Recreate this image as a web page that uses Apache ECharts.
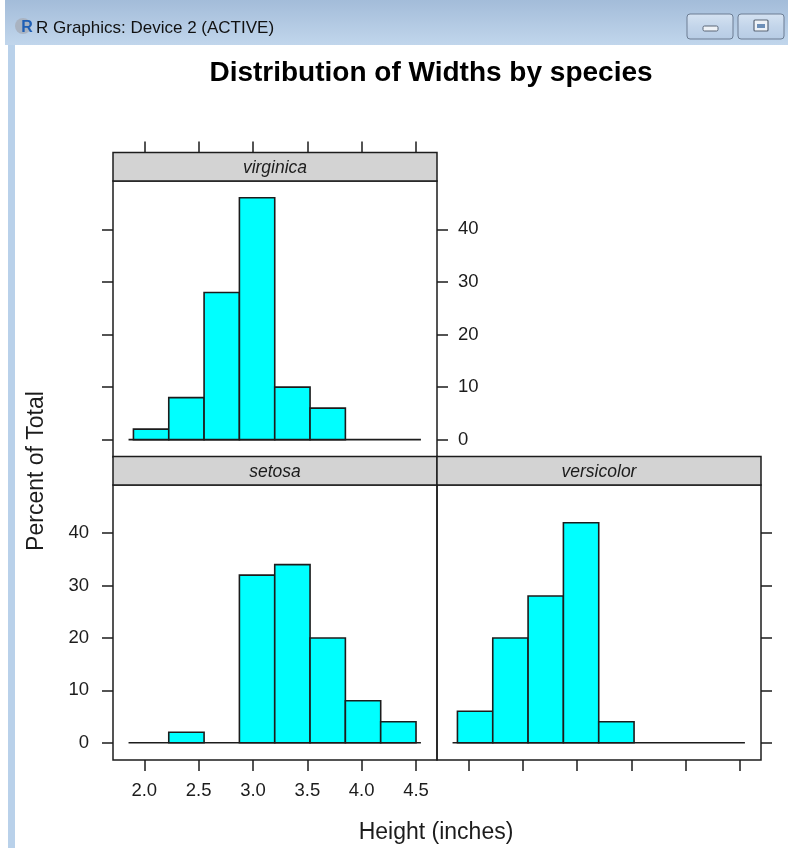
<!DOCTYPE html>
<html>
<head>
<meta charset="utf-8">
<title>Distribution of Widths by species</title>
<script src="https://cdn.jsdelivr.net/npm/echarts@6/dist/echarts.min.js"></script>
<style>
  html, body { margin: 0; padding: 0; background: #ffffff; }
  #chart { width: 788px; height: 848px; }
</style>
</head>
<body>
<div id="chart"></div>
<script>
// Histogram breaks shared by all three panels
const breaks = [1.9, 2.225, 2.55, 2.875, 3.2, 3.525, 3.85, 4.175, 4.5];

// Percent of total per bin, one array per species
const virginica  = [2, 8, 28, 46, 10, 6, 0, 0];
const setosa     = [0, 2, 0, 32, 34, 20, 8, 4];
const versicolor = [6, 20, 28, 42, 4, 0, 0, 0];

// Tick values
const xTicks = [2.0, 2.5, 3.0, 3.5, 4.0, 4.5];
const yTicks = [0, 10, 20, 30, 40];

// Text
const chartTitle = 'Distribution of Widths by species';
const xTitle = 'Height (inches)';
const yTitle = 'Percent of Total';
const windowTitle = 'R Graphics: Device 2 (ACTIVE)';

// Scale limits (padded around the data like lattice does)
const X_MIN = 1.712, X_MAX = 4.693;
const Y_MIN = -3.3, Y_MAX = 49.2;
const BASE_PAD = 0.045;

const FONT = "'Liberation Sans', Arial, sans-serif";
const INK = '#1c1c1c';

function binData(values) {
  const out = [];
  values.forEach((v, i) => {
    if (v > 0) out.push([breaks[i], breaks[i + 1], v]);
  });
  return out;
}

function renderBar(params, api) {
  const lo = api.value(0), hi = api.value(1), v = api.value(2);
  const p0 = api.coord([lo, 0]);
  const p1 = api.coord([hi, v]);
  return {
    type: 'rect',
    shape: { x: p0[0], y: p1[1], width: p1[0] - p0[0], height: p0[1] - p1[1] },
    style: { fill: '#00ffff', stroke: INK, lineWidth: 1.6 }
  };
}

// Panel geometry
const PW = 324;
const panels = [
  { name: 'virginica',  left: 113, top: 181, height: 276 },
  { name: 'setosa',     left: 113, top: 485, height: 275 },
  { name: 'versicolor', left: 437, top: 485, height: 275 }
];
const STRIP_H = 28.5;

const tickStyle = { show: true, length: 11, lineStyle: { color: INK, width: 1.5 } };

function xAxisDef(gridIndex, opts) {
  return Object.assign({
    type: 'value', gridIndex, min: X_MIN, max: X_MAX,
    axisLine: { show: false, onZero: false },
    splitLine: { show: false },
    axisTick: Object.assign({ customValues: xTicks }, tickStyle),
    axisLabel: { show: false }
  }, opts);
}
function yAxisDef(gridIndex, opts) {
  return Object.assign({
    type: 'value', gridIndex, min: Y_MIN, max: Y_MAX,
    axisLine: { show: false, onZero: false },
    splitLine: { show: false },
    axisTick: Object.assign({ customValues: yTicks }, tickStyle),
    axisLabel: { show: false }
  }, opts);
}

const labelStyle = { fontFamily: FONT, fontSize: 18.5, color: INK };

const baseline = [[breaks[0] - BASE_PAD, 0], [breaks[breaks.length - 1] + BASE_PAD, 0]];

function baselineSeries(xi, yi) {
  return {
    type: 'line', xAxisIndex: xi, yAxisIndex: yi, data: baseline,
    symbol: 'none', silent: true, z: 1,
    lineStyle: { color: INK, width: 1.6 }
  };
}
function barSeries(name, values, xi, yi) {
  return {
    type: 'custom', name, xAxisIndex: xi, yAxisIndex: yi,
    data: binData(values), renderItem: renderBar, z: 2,
    encode: { x: [0, 1], y: 2 }
  };
}

// Window chrome and strips
const buttonFill = () => new echarts.graphic.LinearGradient(0, 0, 0, 1, [
  { offset: 0, color: '#d6e3f2' }, { offset: 0.5, color: '#c3d5ea' }, { offset: 1, color: '#b6cbe4' }]);

const graphics = [
  { type: 'rect', z: -10, shape: { x: 5, y: 0, width: 783, height: 45 },
    style: { fill: new echarts.graphic.LinearGradient(0, 0, 0, 1, [
      { offset: 0, color: '#a3bcd9' }, { offset: 1, color: '#c1d6ec' }]) } },
  { type: 'rect', z: -10, shape: { x: 8, y: 45, width: 7, height: 803 },
    style: { fill: '#b9d1ea' } },
  { type: 'circle', shape: { cx: 23, cy: 26, r: 8 }, style: { fill: '#a9b3c1' } },
  { type: 'text', style: { x: 27, y: 28, text: 'R', fontFamily: FONT, fontWeight: 'bold',
      fontSize: 16, fill: '#1f5fb5', align: 'center', verticalAlign: 'middle' } },
  { type: 'text', style: { x: 36, y: 28, text: windowTitle, fontFamily: FONT,
      fontSize: 17, fill: '#111111', verticalAlign: 'middle' } },
  { type: 'rect', shape: { x: 687, y: 14, width: 46, height: 25, r: 3 },
    style: { fill: buttonFill(), stroke: '#6c7d93', lineWidth: 1 } },
  { type: 'rect', shape: { x: 703, y: 26, width: 15, height: 5, r: 1.5 },
    style: { fill: '#eef2f7', stroke: '#5a6677', lineWidth: 1 } },
  { type: 'rect', shape: { x: 738, y: 14, width: 46, height: 25, r: 3 },
    style: { fill: buttonFill(), stroke: '#6c7d93', lineWidth: 1 } },
  { type: 'rect', shape: { x: 754, y: 20, width: 14, height: 11, r: 1 },
    style: { fill: '#eef2f7', stroke: '#5a6677', lineWidth: 1.2 } },
  { type: 'rect', shape: { x: 757, y: 24, width: 8, height: 4 },
    style: { fill: '#6d8fb8' } }
];

panels.forEach(p => {
  graphics.push({
    type: 'rect', z: 5,
    shape: { x: p.left, y: p.top - STRIP_H, width: PW, height: STRIP_H },
    style: { fill: '#d3d3d3', stroke: INK, lineWidth: 1.5 }
  });
  graphics.push({
    type: 'text', z: 6,
    style: { x: p.left + PW / 2, y: p.top - STRIP_H / 2 + 1, text: p.name,
      fontFamily: FONT, fontStyle: 'italic', fontSize: 17.5, fill: INK,
      align: 'center', verticalAlign: 'middle' }
  });
});

// Axis titles centred on the whole panel layout
graphics.push({
  type: 'text', z: 6,
  style: { x: 436, y: 833, text: xTitle, fontFamily: FONT, fontSize: 23, fill: INK,
    align: 'center', verticalAlign: 'middle' }
});
graphics.push({
  type: 'text', z: 6, rotation: Math.PI / 2,
  x: 37, y: 471,
  style: { text: yTitle, fontFamily: FONT, fontSize: 23, fill: INK,
    align: 'center', verticalAlign: 'middle' }
});

const option = {
  backgroundColor: '#ffffff',
  animation: false,
  title: {
    text: chartTitle, left: 426, top: 54, textAlign: 'center',
    textStyle: { fontFamily: FONT, fontSize: 28, fontWeight: 'bold', color: '#000000' }
  },
  grid: panels.map(p => ({
    left: p.left, top: p.top, width: PW, height: p.height,
    show: true, borderColor: INK, borderWidth: 1.5, backgroundColor: 'transparent'
  })),
  xAxis: [
    xAxisDef(0, { position: 'top', offset: STRIP_H }),
    xAxisDef(1, {
      position: 'bottom',
      axisLabel: Object.assign({ show: true, margin: 21, customValues: xTicks,
        formatter: v => v.toFixed(1) }, labelStyle)
    }),
    xAxisDef(2, { position: 'bottom' })
  ],
  yAxis: [
    yAxisDef(0, { position: 'left' }),
    yAxisDef(0, {
      position: 'right',
      axisLabel: Object.assign({ show: true, margin: 21, customValues: yTicks }, labelStyle)
    }),
    yAxisDef(1, {
      position: 'left',
      axisLabel: Object.assign({ show: true, margin: 24, customValues: yTicks }, labelStyle)
    }),
    yAxisDef(2, { position: 'right' })
  ],
  graphic: graphics,
  series: [
    baselineSeries(0, 0), barSeries('virginica', virginica, 0, 0),
    baselineSeries(1, 2), barSeries('setosa', setosa, 1, 2),
    baselineSeries(2, 3), barSeries('versicolor', versicolor, 2, 3)
  ]
};

const chart = echarts.init(document.getElementById('chart'), null, { renderer: 'canvas' });
chart.setOption(option);
</script>
</body>
</html>
